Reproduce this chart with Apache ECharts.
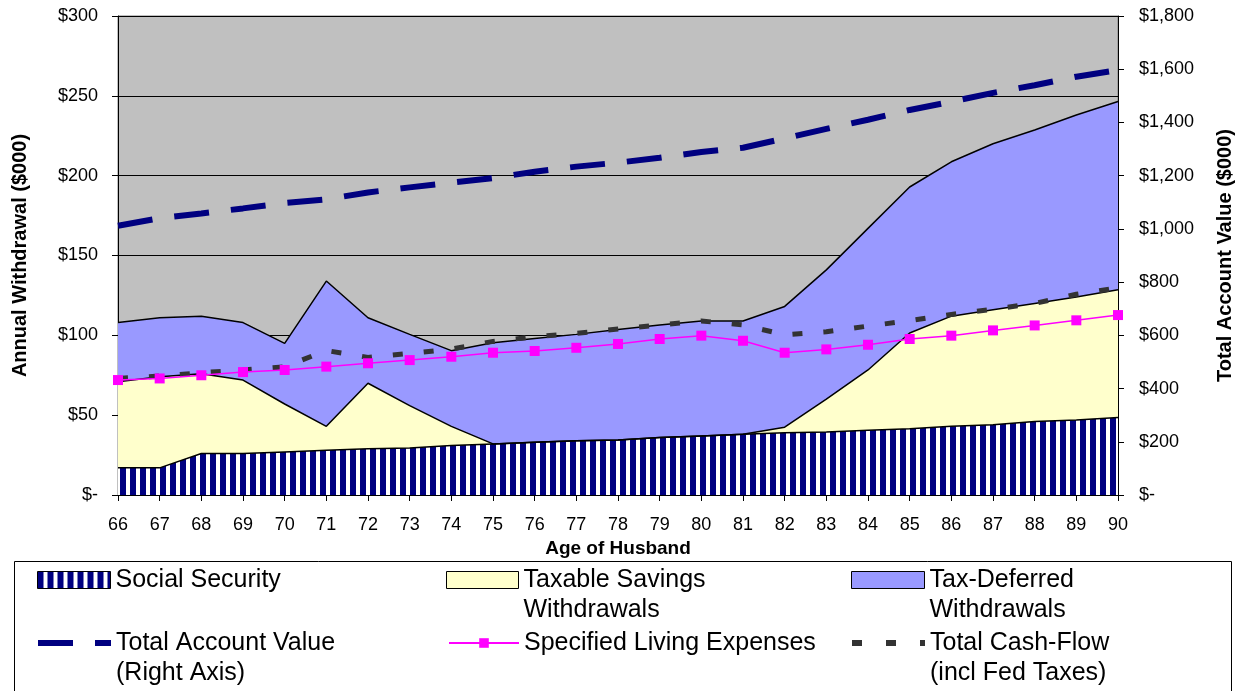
<!DOCTYPE html>
<html>
<head>
<meta charset="utf-8">
<title>Annual Withdrawal by Age of Husband</title>
<script src="https://cdn.jsdelivr.net/npm/echarts@6/dist/echarts.min.js"></script>
<style>
    html, body { margin: 0; padding: 0; background: #fff; }
    #main { width: 1241px; height: 691px; }
</style>
</head>
<body>
<div id="main"></div>
<script>
    // ages along the x axis
    var ages = ['66', '67', '68', '69', '70', '71', '72', '73', '74', '75', '76', '77', '78',
        '79', '80', '81', '82', '83', '84', '85', '86', '87', '88', '89', '90'];

    // stacked withdrawals ($000)
    var socialSecurity = [17, 17, 26, 26, 27, 28, 29, 29.5, 31, 32, 33, 34, 34.5,
        36, 37, 38, 39, 39.5, 40.5, 41.5, 43, 44, 46, 47, 48.5];
    var taxableSavings = [54, 57, 50, 46, 30, 15, 41, 26.5, 12, 0, 0, 0, 0,
        0, 0, 0, 3.5, 20.5, 37.8, 60, 69, 72, 74, 77, 80];
    var taxDeferred = [37, 37, 36, 36, 38, 91, 41, 44.6, 47.4, 63.4, 65, 66.6, 69.2,
        70.5, 72, 71, 75.6, 81, 88.7, 91.4, 96.7, 104, 108.6, 114, 118];

    // lines
    var accountValue = [1012, 1040, 1058, 1077, 1097, 1111, 1137, 1156, 1174, 1191, 1215, 1234, 1249,
        1267, 1289, 1305, 1340, 1376, 1410, 1447, 1478, 1511, 1540, 1572, 1597];
    var livingExpenses = [72, 73, 75, 77, 78.3, 80.4, 82.5, 84.5, 86.6, 89.1, 90.2, 92.2, 94.6,
        97.7, 99.8, 96.6, 89.1, 91.2, 94.1, 97.7, 99.8, 103.1, 106.2, 109.4, 112.7];
    var totalCashFlow = [73, 74.5, 76.6, 78.3, 80.3, 90.5, 86.2, 88.7, 91.4, 96.2, 99.1, 101.2, 104,
        106.5, 109, 106.5, 100.3, 102.3, 105.8, 109.2, 113.1, 116.3, 120, 125.7, 129.8];

    // tick labels
    var leftTicks = ['$-', '$50', '$100', '$150', '$200', '$250', '$300'];
    var rightTicks = ['$-', '$200', '$400', '$600', '$800', '$1,000', '$1,200', '$1,400', '$1,600', '$1,800'];

    var names = ['Social Security', 'Taxable Savings Withdrawals', 'Tax-Deferred Withdrawals',
        'Total Account Value', 'Specified Living Expenses', 'Total Cash-Flow'];

    var font = "'Liberation Sans', Arial, sans-serif";

    // vertical navy stripes for social security
    var stripe = document.createElement('canvas');
    stripe.width = 10;
    stripe.height = 10;
    var ctx = stripe.getContext('2d');
    ctx.fillStyle = '#ffffff';
    ctx.fillRect(0, 0, 10, 10);
    ctx.fillStyle = '#000080';
    ctx.fillRect(0, 0, 6, 10);
    var stripeFill = { image: stripe, repeat: 'repeat' };

    // one legend component per entry so each sits where it should.
    // two-line labels get an empty first line so the icon lines up with the first real line
    function legendAt(name, label, left, top, w, h, item, lineStyle) {
        var d = { name: name };
        for (var k in item) d[k] = item[k];
        var lg = {
            data: [d],
            left: left,
            top: top,
            padding: 0,
            itemWidth: w,
            itemHeight: h,
            selectedMode: false,
            formatter: label,
            textStyle: {
                fontFamily: font,
                fontSize: 25,
                color: '#000',
                lineHeight: 30
            }
        };
        if (lineStyle) lg.lineStyle = lineStyle;
        return lg;
    }

    var option = {
        animation: false,
        backgroundColor: '#fff',
        grid: {
            left: 118,
            right: 123,
            top: 16,
            bottom: 196,
            containLabel: false,
            outerBoundsMode: 'none',
            show: true,
            backgroundColor: '#C0C0C0',
            borderColor: '#808080',
            borderWidth: 1
        },
        legend: [
            legendAt(names[0], 'Social Security', 37, 565, 73, 17,
                { icon: 'rect', itemStyle: { color: stripeFill, borderColor: '#000', borderWidth: 1 } }),
            legendAt(names[1], '\nTaxable Savings\nWithdrawals', 446, 535, 72, 17,
                { icon: 'rect', itemStyle: { color: '#FFFFCC', borderColor: '#000', borderWidth: 1 } }),
            legendAt(names[2], '\nTax-Deferred\nWithdrawals', 851, 535, 73, 17,
                { icon: 'rect', itemStyle: { color: '#9999FF', borderColor: '#000', borderWidth: 1 } }),
            legendAt(names[3], '\nTotal Account Value\n(Right Axis)', 35, 598, 73, 17,
                { itemStyle: { opacity: 0 } },
                { color: '#000080', width: 6, type: [35, 22] }),
            legendAt(names[4], 'Specified Living Expenses', 448, 628, 70, 12, {}),
            legendAt(names[5], '\nTotal Cash-Flow\n(incl Fed Taxes)', 849, 598, 73, 17,
                { itemStyle: { opacity: 0 } },
                { color: '#333333', width: 6, type: [10, 24] })
        ],
        xAxis: {
            type: 'category',
            data: ages,
            boundaryGap: false,
            name: 'Age of Husband',
            nameLocation: 'middle',
            nameGap: 43,
            nameTextStyle: { fontFamily: font, fontSize: 19, fontWeight: 'bold', color: '#000' },
            axisLine: { lineStyle: { color: '#000', width: 1 } },
            axisTick: { show: true, interval: 0, length: 6, lineStyle: { color: '#000' } },
            axisLabel: { interval: 0, margin: 21, fontFamily: font, fontSize: 18, color: '#000' },
            splitLine: { show: false }
        },
        yAxis: [
            {
                type: 'value',
                position: 'left',
                min: 0,
                max: 300,
                interval: 50,
                name: 'Annual Withdrawal ($000)',
                nameLocation: 'middle',
                nameRotate: 90,
                nameGap: 88,
                nameTextStyle: { fontFamily: font, fontSize: 20, fontWeight: 'bold', color: '#000' },
                axisLine: { show: true, lineStyle: { color: '#000' } },
                axisTick: { show: true, length: 6, lineStyle: { color: '#000' } },
                axisLabel: {
                    margin: 20, fontFamily: font, fontSize: 18, color: '#000',
                    formatter: function (v) { return leftTicks[Math.round(v / 50)]; }
                },
                splitLine: { show: true, lineStyle: { color: '#000', width: 1 } }
            },
            {
                type: 'value',
                position: 'right',
                min: 0,
                max: 1800,
                interval: 200,
                name: 'Total Account Value ($000)',
                nameLocation: 'middle',
                nameRotate: 90,
                nameGap: 97,
                nameTextStyle: { fontFamily: font, fontSize: 20, fontWeight: 'bold', color: '#000' },
                axisLine: { show: true, lineStyle: { color: '#000' } },
                axisTick: { show: true, length: 6, lineStyle: { color: '#000' } },
                axisLabel: {
                    margin: 21, fontFamily: font, fontSize: 18, color: '#000',
                    formatter: function (v) { return rightTicks[Math.round(v / 200)]; }
                },
                splitLine: { show: false }
            }
        ],
        series: [
            {
                name: names[0], type: 'line', stack: 'w', data: socialSecurity,
                symbol: 'none', z: 2,
                lineStyle: { color: '#000', width: 1.5 },
                itemStyle: { color: '#000080' },
                areaStyle: { color: stripeFill, opacity: 1 },
                emphasis: { disabled: true }
            },
            {
                name: names[1], type: 'line', stack: 'w', data: taxableSavings,
                symbol: 'none', z: 2,
                lineStyle: { color: '#000', width: 1.5 },
                itemStyle: { color: '#FFFFCC' },
                areaStyle: { color: '#FFFFCC', opacity: 1 },
                emphasis: { disabled: true }
            },
            {
                name: names[2], type: 'line', stack: 'w', data: taxDeferred,
                symbol: 'none', z: 2,
                lineStyle: { color: '#000', width: 1.5 },
                itemStyle: { color: '#9999FF' },
                areaStyle: { color: '#9999FF', opacity: 1 },
                emphasis: { disabled: true }
            },
            {
                name: names[3], type: 'line', yAxisIndex: 1, data: accountValue,
                symbol: 'none', z: 5,
                lineStyle: { color: '#000080', width: 6, type: [35, 22] },
                itemStyle: { color: '#000080' },
                emphasis: { disabled: true }
            },
            {
                name: names[5], type: 'line', data: totalCashFlow,
                symbol: 'none', z: 5,
                lineStyle: { color: '#333333', width: 5, type: [10, 21] },
                itemStyle: { color: '#333333' },
                emphasis: { disabled: true }
            },
            {
                name: names[4], type: 'line', data: livingExpenses,
                symbol: 'rect', symbolSize: 10, showSymbol: true, showAllSymbol: true, z: 6,
                lineStyle: { color: '#FF00FF', width: 1.5 },
                itemStyle: { color: '#FF00FF' },
                emphasis: { disabled: true }
            }
        ],
        graphic: [
            {
                type: 'rect', silent: true, z: -1,
                shape: { x: 14.5, y: 561.5, width: 1217, height: 200 },
                style: { fill: 'none', stroke: '#000', lineWidth: 1 }
            }
        ]
    };

    var chart = echarts.init(document.getElementById('main'));
    chart.setOption(option);
</script>
</body>
</html>
